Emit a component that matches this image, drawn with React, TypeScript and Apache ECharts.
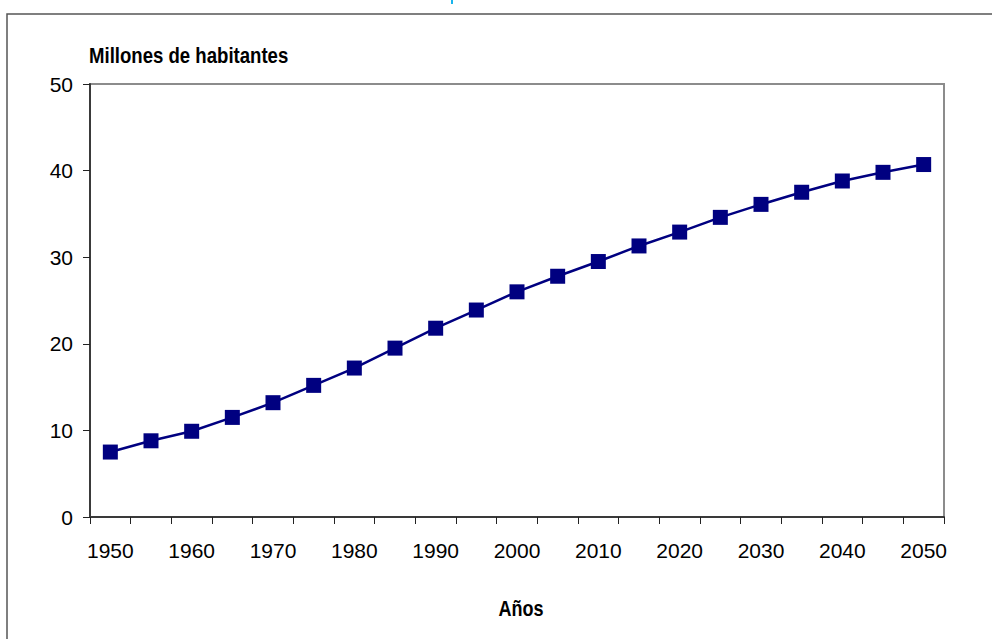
import React, { useEffect, useRef } from "react";
import * as echarts from "echarts";

const years = [
  "1950", "1955", "1960", "1965", "1970", "1975", "1980", "1985", "1990", "1995", "2000",
  "2005", "2010", "2015", "2020", "2025", "2030", "2035", "2040", "2045", "2050",
];
const population = [
  7.5, 8.8, 9.9, 11.5, 13.2, 15.2, 17.2, 19.5, 21.8, 23.9, 26.0,
  27.8, 29.5, 31.3, 32.9, 34.6, 36.1, 37.5, 38.8, 39.8, 40.7,
];
const yTicks = [0, 10, 20, 30, 40, 50];
const yAxisName = "Millones de habitantes";
const xAxisName = "Años";

const FONT = "'Liberation Sans Narrow', 'Arial Narrow', 'Liberation Sans', sans-serif";

export default function App() {
  const ref = useRef<HTMLDivElement>(null);
  useEffect(() => {
    if (!ref.current) return;
    const chart = echarts.init(ref.current, undefined, { renderer: "svg" });
    chart.setOption({
      animation: false,
      backgroundColor: "#ffffff",
      textStyle: { fontFamily: FONT },
      grid: {
        left: 90,
        top: 84,
        width: 854,
        height: 433,
        show: true,
        borderColor: "#8c8c8c",
        borderWidth: 2,
        backgroundColor: "transparent",
      },
      graphic: [
        {
          type: "rect",
          shape: { x: 7, y: 14, width: 1000, height: 700 },
          style: { fill: "none", stroke: "#555555", lineWidth: 1.5 },
          silent: true,
        },
        {
          type: "rect",
          shape: { x: 451, y: 0, width: 2, height: 4 },
          style: { fill: "#19b4ec" },
          silent: true,
        },
        {
          type: "text",
          x: 89,
          y: 55,
          scaleX: 0.845,
          style: {
            text: yAxisName,
            fontFamily: FONT,
            fontSize: 22,
            fontWeight: "bold",
            fill: "#000000",
            textVerticalAlign: "middle",
          },
        },
        {
          type: "text",
          x: 521,
          y: 608,
          scaleX: 0.82,
          style: {
            text: xAxisName,
            fontFamily: FONT,
            fontSize: 22,
            fontWeight: "bold",
            fill: "#000000",
            textAlign: "center",
            textVerticalAlign: "middle",
          },
        },
      ],
      xAxis: {
        type: "category",
        data: years,
        boundaryGap: true,
        axisLine: { show: true, lineStyle: { color: "#3a3a3a", width: 2 } },
        axisTick: { show: true, interval: 0, length: 7, lineStyle: { color: "#222222", width: 1 } },
        axisLabel: {
          interval: 1,
          margin: 23,
          fontSize: 21,
          color: "#000000",
          fontFamily: FONT,
        },
        splitLine: { show: false },
      },
      yAxis: {
        type: "value",
        min: yTicks[0],
        max: yTicks[yTicks.length - 1],
        interval: 10,
        axisLine: { show: true, lineStyle: { color: "#3a3a3a", width: 2 } },
        axisTick: { show: true, length: 7, lineStyle: { color: "#222222", width: 1 } },
        axisLabel: { margin: 17, fontSize: 21, color: "#000000", fontFamily: FONT },
        splitLine: { show: false },
      },
      series: [
        {
          type: "line",
          data: population,
          symbol: "rect",
          symbolSize: 15,
          lineStyle: { color: "#000080", width: 2.5 },
          itemStyle: { color: "#000080" },
          z: 3,
        },
      ],
    });
    return () => chart.dispose();
  }, []);
  return (
    <div
      ref={ref}
      style={{ position: "fixed", left: 0, top: 0, width: 992, height: 639, background: "#fff" }}
    />
  );
}
